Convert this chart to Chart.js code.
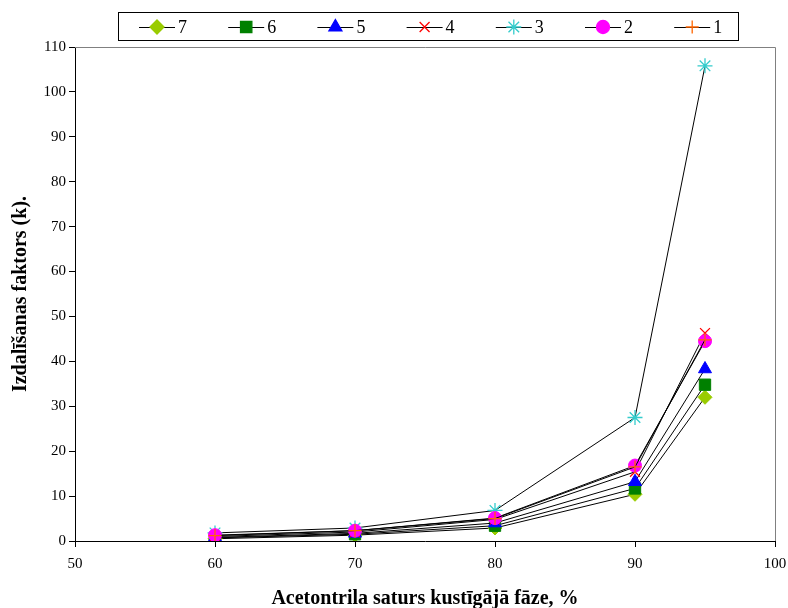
<!DOCTYPE html>
<html>
<head>
<meta charset="utf-8">
<script src="https://cdn.jsdelivr.net/npm/chart.js@4.4.1/dist/chart.umd.min.js"></script>
<style>
  body { margin: 0; background: #fff; }
  #wrap { width: 788px; height: 608px; }
</style>
</head>
<body>
<div id="wrap"><canvas id="chart" width="788" height="608"></canvas></div>
<script>
// acetonitrile content, %
var xValues = [60, 70, 80, 90, 95]

// capacity factor (k) for each substance
var series1 = [1.2, 2.3, 5.0, 16.5, 44.8]
var series2 = [1.3, 2.3, 5.1, 16.8, 44.5]
var series3 = [1.8, 2.9, 6.8, 27.5, 105.8]
var series4 = [1.0, 2.0, 4.8, 15.4, 46.3]
var series5 = [0.8, 1.7, 4.0, 13.2, 38.3]
var series6 = [0.7, 1.5, 3.4, 11.7, 34.8]
var series7 = [0.5, 1.3, 2.9, 10.4, 32.0]

var seriesLabels = ['7', '6', '5', '4', '3', '2', '1']
var xTitle = 'Acetontrila saturs kustīgājā fāze, %'
var yTitle = 'Izdalīšanas faktors (k).'

var seriesData = [series7, series6, series5, series4, series3, series2, series1]
var markers = ['rectRot', 'rect', 'triangle', 'crossRot', 'star', 'circle', 'cross']
var marker_color = ['#99CC00', '#008000', '#0000FF', '#FF0000', '#33CCCC', '#FF00FF', '#FF6600']
var marker_size = [7, 8, 7.5, 7, 7.5, 6.5, 6.5]

var serif = '"Liberation Serif", "DejaVu Serif", serif'

function toPoints(arr) {
  var pts = []
  for (var i = 0; i < xValues.length; i++) {
    pts.push({ x: xValues[i], y: arr[i] })
  }
  return pts
}

var datasets = []
for (let i = 0; i < seriesData.length; i++) {
  var lineMarker = markers[i] == 'crossRot' || markers[i] == 'star' || markers[i] == 'cross'
  datasets.push({
    label: seriesLabels[i],
    data: toPoints(seriesData[i]),
    borderColor: '#000000',
    borderWidth: 1,
    pointStyle: markers[i],
    pointRadius: marker_size[i],
    pointBackgroundColor: marker_color[i],
    pointBorderColor: marker_color[i],
    pointBorderWidth: lineMarker ? 1.3 : 1,
    order: seriesData.length - i,
    tension: 0
  })
}

// draws the boxed legend at the top and the grey frame of the plot area
var extrasPlugin = {
  id: 'extras',
  afterDraw: function(chart) {
    var ctx = chart.ctx
    var area = chart.chartArea
    ctx.save()
    ctx.strokeStyle = '#808080'
    ctx.lineWidth = 1
    ctx.beginPath()
    ctx.moveTo(area.left, area.top + 0.5)
    ctx.lineTo(area.right + 0.5, area.top + 0.5)
    ctx.lineTo(area.right + 0.5, area.bottom)
    ctx.stroke()

    // legend box
    ctx.strokeStyle = '#000000'
    ctx.strokeRect(118.5, 12.5, 620, 28)
    ctx.font = '18px ' + serif
    ctx.textBaseline = 'middle'
    ctx.textAlign = 'left'
    var cy = 27
    for (let i = 0; i < seriesLabels.length; i++) {
      var mx = 157 + i * 89.2
      ctx.strokeStyle = '#000000'
      ctx.lineWidth = 1
      ctx.beginPath()
      ctx.moveTo(mx - 18, cy + 0.5)
      ctx.lineTo(mx + 18, cy + 0.5)
      ctx.stroke()
      ctx.fillStyle = marker_color[i]
      ctx.strokeStyle = marker_color[i]
      ctx.lineWidth = 1.3
      Chart.helpers.drawPoint(ctx, { pointStyle: markers[i], radius: marker_size[i], rotation: 0, borderWidth: 1 }, mx, cy)
      ctx.fillStyle = '#000000'
      ctx.fillText(seriesLabels[i], mx + 21, cy + 1)
    }
    ctx.restore()
  }
}

var chart_element = document.getElementById('chart').getContext('2d')
var myChart = new Chart(chart_element, {
  type: 'line',
  data: { datasets: datasets },
  plugins: [extrasPlugin],
  options: {
    responsive: false,
    animation: false,
    layout: { padding: { left: 0, top: 47, right: 13, bottom: 0 } },
    plugins: {
      legend: { display: false },
      tooltip: { enabled: false }
    },
    scales: {
      x: {
        type: 'linear',
        min: 50,
        max: 100,
        ticks: {
          stepSize: 10,
          color: '#000000',
          font: { family: serif, size: 15 },
          padding: 8,
          maxRotation: 0
        },
        grid: { drawOnChartArea: false, tickLength: 6, color: '#000000' },
        border: { color: '#000000', width: 1 },
        title: {
          display: true,
          text: xTitle,
          color: '#000000',
          font: { family: serif, size: 20, weight: 'bold' },
          padding: { top: 0, bottom: -3 }
        },
        afterFit: function(scale) {
          scale.height = 67
          scale.paddingLeft = 0
          scale.paddingRight = 0
        }
      },
      y: {
        min: 0,
        max: 110,
        ticks: {
          stepSize: 10,
          color: '#000000',
          font: { family: serif, size: 15 },
          padding: 3
        },
        grid: { drawOnChartArea: false, tickLength: 6, color: '#000000' },
        border: { color: '#000000', width: 1 },
        title: {
          display: true,
          text: yTitle,
          color: '#000000',
          font: { family: serif, size: 20, weight: 'bold' },
          padding: { top: 9, bottom: 0 }
        },
        afterFit: function(scale) {
          scale.width = 75
          scale.paddingTop = 0
          scale.paddingBottom = 0
        }
      }
    }
  }
})
</script>
</body>
</html>
